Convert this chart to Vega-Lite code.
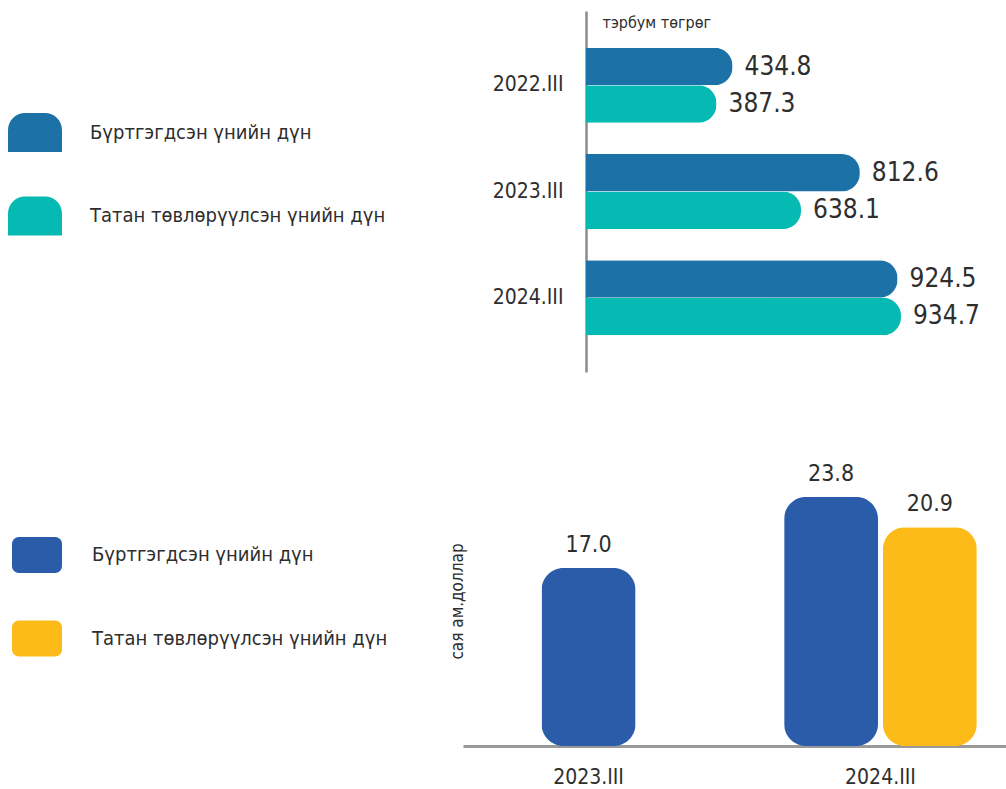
{
  "$schema": "https://vega.github.io/schema/vega-lite/v6.json",
  "width": 1006,
  "height": 789,
  "autosize": {"type": "none"},
  "padding": 0,
  "background": "white",
  "config": {
    "font": "'Liberation Sans Narrow', 'DejaVu Sans Condensed', sans-serif",
    "view": {"stroke": null},
    "axis": {"grid": false},
    "legend": {"padding": 0}
  },
  "layer": [
    {
      "data": {"values": [
        {"period": "2022.III", "series": "Бүртгэгдсэн үнийн дүн", "value": 434.8},
        {"period": "2022.III", "series": "Татан төвлөрүүлсэн үнийн дүн", "value": 387.3},
        {"period": "2023.III", "series": "Бүртгэгдсэн үнийн дүн", "value": 812.6},
        {"period": "2023.III", "series": "Татан төвлөрүүлсэн үнийн дүн", "value": 638.1},
        {"period": "2024.III", "series": "Бүртгэгдсэн үнийн дүн", "value": 924.5},
        {"period": "2024.III", "series": "Татан төвлөрүүлсэн үнийн дүн", "value": 934.7}
      ]},
      "encoding": {
        "y": {
          "field": "period", "type": "nominal",
          "scale": {"domain": ["2022.III", "2023.III", "2024.III"], "range": [11, 372], "paddingInner": 0.294, "paddingOuter": 0.346},
          "axis": {
            "orient": "left", "offset": -586, "domainColor": "#8c8c8c", "domainWidth": 2.5,
            "ticks": false, "labelFontSize": 21, "labelColor": "#2e2e2e", "labelPadding": 23,
            "title": "тэрбум төгрөг", "titleAngle": 0, "titleX": 16, "titleY": 27,
            "titleAlign": "left", "titleBaseline": "alphabetic", "titleFontSize": 16,
            "titleFontWeight": "normal", "titleColor": "#2e2e2e"
          }
        },
        "yOffset": {
          "field": "series", "type": "nominal",
          "scale": {"domain": ["Бүртгэгдсэн үнийн дүн", "Татан төвлөрүүлсэн үнийн дүн"], "paddingInner": 0, "paddingOuter": 0}
        },
        "x": {
          "field": "value", "type": "quantitative",
          "scale": {"domain": [0, 1000], "range": [586, 923]},
          "axis": null
        },
        "color": {
          "field": "series", "type": "nominal",
          "scale": {"domain": ["Бүртгэгдсэн үнийн дүн", "Татан төвлөрүүлсэн үнийн дүн"], "range": ["#1c72a6", "#05bab3"]},
          "legend": {
            "orient": "none", "legendX": 8, "legendY": 105.5, "title": null,
            "symbolType": "M-1,0.722 L-1,-0.09 A0.63,0.63 0 0 1 -0.37,-0.722 L0.37,-0.722 A0.63,0.63 0 0 1 1,-0.09 L1,0.722 Z",
            "symbolSize": 2916, "symbolStrokeWidth": 0, "symbolOpacity": 1,
            "labelFontSize": 20, "labelColor": "#2e2e2e", "labelOffset": 28,
            "rowPadding": 36.5, "labelLimit": 400
          }
        }
      },
      "layer": [
        {"mark": {"type": "bar", "cornerRadiusEnd": 18}},
        {
          "mark": {"type": "text", "align": "left", "baseline": "middle", "dx": 12, "fontSize": 26, "color": "#2e2e2e"},
          "encoding": {"text": {"field": "value", "type": "quantitative", "format": ".1f"}, "color": {"value": "#2e2e2e"}}
        }
      ]
    },
    {
      "data": {"values": [
        {"period": "2023.III", "series": "Бүртгэгдсэн үнийн дүн", "value": 17.0},
        {"period": "2024.III", "series": "Бүртгэгдсэн үнийн дүн", "value": 23.8},
        {"period": "2024.III", "series": "Татан төвлөрүүлсэн үнийн дүн", "value": 20.9}
      ]},
      "encoding": {
        "x": {
          "field": "period", "type": "nominal",
          "scale": {"domain": ["2023.III", "2024.III"], "range": [463, 1006], "paddingInner": 0.34, "paddingOuter": 0.1},
          "axis": {
            "orient": "bottom", "offset": -43, "domainColor": "#999999", "domainWidth": 3,
            "ticks": false, "labelFontSize": 21, "labelColor": "#2e2e2e", "labelPadding": 20,
            "labelAngle": 0, "title": null
          }
        },
        "y": {
          "field": "value", "type": "quantitative",
          "scale": {"domain": [0, 30], "range": [746, 432]},
          "axis": {
            "orient": "left", "offset": 0, "domain": false, "labels": false, "ticks": false,
            "title": "сая ам.доллар", "titleAngle": 270, "titleX": 462, "titleY": 601,
            "titleAlign": "center", "titleBaseline": "alphabetic", "titleFontSize": 17,
            "titleFontWeight": "normal", "titleColor": "#2e2e2e"
          }
        },
        "color": {
          "field": "series", "type": "nominal",
          "scale": {"domain": ["Бүртгэгдсэн үнийн дүн", "Татан төвлөрүүлсэн үнийн дүн"], "range": ["#2a5caa", "#fcbb19"]},
          "legend": {
            "orient": "none", "legendX": 12, "legendY": 530, "title": null,
            "symbolType": "M-0.72,-0.72 L0.72,-0.72 A0.28,0.28 0 0 1 1,-0.44 L1,0.44 A0.28,0.28 0 0 1 0.72,0.72 L-0.72,0.72 A0.28,0.28 0 0 1 -1,0.44 L-1,-0.44 A0.28,0.28 0 0 1 -0.72,-0.72 Z",
            "symbolSize": 2500, "symbolStrokeWidth": 0, "symbolOpacity": 1,
            "labelFontSize": 20, "labelColor": "#2e2e2e", "labelOffset": 30,
            "rowPadding": 40.5, "labelLimit": 400
          }
        }
      },
      "layer": [
        {
          "transform": [{"filter": "datum.period === '2023.III'"}],
          "mark": {"type": "bar", "cornerRadius": 22, "width": {"band": 0.488}}
        },
        {
          "transform": [{"filter": "datum.period === '2024.III'"}],
          "mark": {"type": "bar", "cornerRadius": 22},
          "encoding": {
            "xOffset": {"field": "series", "type": "nominal", "scale": {"domain": ["Бүртгэгдсэн үнийн дүн", "Татан төвлөрүүлсэн үнийн дүн"], "paddingInner": 0.05, "paddingOuter": 0}}
          }
        },
        {
          "transform": [{"filter": "datum.period === '2023.III'"}],
          "mark": {"type": "text", "baseline": "bottom", "dy": -11, "fontSize": 23, "color": "#2e2e2e"},
          "encoding": {"text": {"field": "value", "type": "quantitative", "format": ".1f"}, "color": {"value": "#2e2e2e"}}
        },
        {
          "transform": [{"filter": "datum.period === '2024.III'"}],
          "mark": {"type": "text", "baseline": "bottom", "dy": -11, "fontSize": 23, "color": "#2e2e2e"},
          "encoding": {
            "xOffset": {"field": "series", "type": "nominal", "scale": {"domain": ["Бүртгэгдсэн үнийн дүн", "Татан төвлөрүүлсэн үнийн дүн"], "paddingInner": 0.05, "paddingOuter": 0}},
            "text": {"field": "value", "type": "quantitative", "format": ".1f"},
            "color": {"value": "#2e2e2e"}
          }
        }
      ]
    }
  ],
  "resolve": {
    "scale": {"x": "independent", "y": "independent", "color": "independent"},
    "axis": {"x": "independent", "y": "independent"},
    "legend": {"color": "independent"}
  }
}
